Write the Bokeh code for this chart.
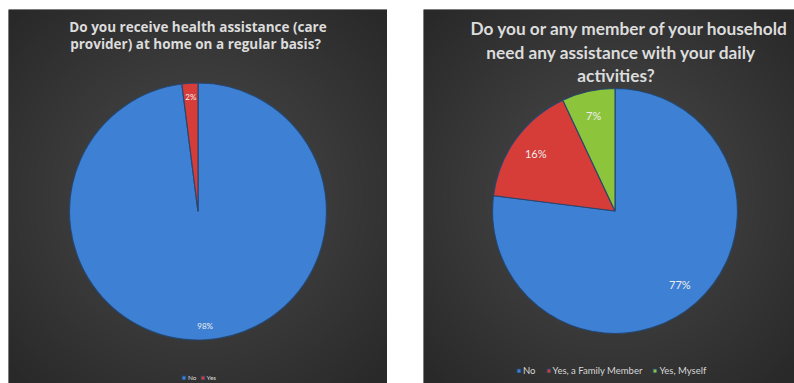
import numpy as np
from bokeh.plotting import figure
from bokeh.models import Range1d, Label, Legend, LegendItem, ColumnDataSource
from bokeh.layouts import row
from bokeh.embed import file_html
from bokeh.resources import INLINE
from bokeh.core.properties import value

# ---------------- data ----------------
left_title = ["Do you receive health assistance (care",
              "provider) at home on a regular basis?"]
left_categories = ["No", "Yes"]
left_values = [98, 2]
left_colors = ["#3d80d4", "#d63c38"]

right_title = ["Do you or any member of your household",
               "need any assistance with your daily",
               "activities?"]
right_categories = ["No", "Yes, a Family Member", "Yes, Myself"]
right_values = [77, 16, 7]
right_colors = ["#3d80d4", "#d63c38", "#8cc43c"]


def background(W, H):
    yy, xx = np.mgrid[0:H, 0:W].astype(float)
    dx = (xx - W * 0.5) / (W * 0.55)
    dy = (yy - H * 0.5) / (H * 0.55)
    d = np.clip(np.sqrt(dx * dx + dy * dy) / 1.25, 0, 1)
    c0 = np.array([0x4c, 0x4c, 0x4c], float)
    c1 = np.array([0x29, 0x29, 0x29], float)
    rgb = c0[None, None, :] * (1 - d[..., None]) + c1[None, None, :] * d[..., None]
    rgb = rgb.astype(np.uint32)
    img = (255 << 24) | (rgb[..., 2] << 16) | (rgb[..., 1] << 8) | rgb[..., 0]
    return img.astype(np.uint32)


def pie_panel(W, H, cx, cy, r, title_lines, title_font, title_size, title_ys, title_xs,
              cats, vals, colors, label_frac, label_size,
              legend_loc, legend_size, legend_spacing, glyph):
    p = figure(width=W, height=H,
               x_range=Range1d(-cx, W - cx), y_range=Range1d(-(H - cy), cy),
               output_backend="svg", toolbar_location=None, min_border=0,
               x_axis_location=None, y_axis_location=None)
    p.grid.visible = False
    p.outline_line_color = None
    p.background_fill_color = "#353535"
    p.border_fill_color = "#353535"

    p.image_rgba(image=[background(W, H)], x=-cx, y=-(H - cy), dw=W, dh=H)

    v = np.array(vals, float)
    frac = v / v.sum()
    cum = np.concatenate([[0.0], np.cumsum(frac)])
    start = np.pi / 2 - 2 * np.pi * cum[1:]
    end = np.pi / 2 - 2 * np.pi * cum[:-1]
    mid = (start + end) / 2
    src = ColumnDataSource(dict(
        cat=cats, start=start, end=end, color=colors,
        lx=label_frac * r * np.cos(mid), ly=label_frac * r * np.sin(mid),
        text=[f"{x:g}%" for x in vals]))
    w = p.wedge(x=0, y=0, radius=r, start_angle="start", end_angle="end",
                fill_color="color", line_color="#24466f", line_width=1.2,
                line_alpha=0.9, source=src)
    p.text(x="lx", y="ly", text="text", text_align="center",
           text_baseline="middle", text_font=value("Lato"),
           text_font_size=label_size, text_color="#eeeeee", source=src)

    for line, y, x in zip(title_lines, title_ys, title_xs):
        p.add_layout(Label(x=x, y=H - y, x_units="screen", y_units="screen",
                           text=line, text_align="center", text_baseline="middle",
                           text_font=title_font, text_font_style="bold",
                           text_font_size=title_size, text_color="#dcdcdc"))

    legend = Legend(items=[LegendItem(label=c, renderers=[w], index=i)
                           for i, c in enumerate(cats)],
                    orientation="horizontal", location=legend_loc,
                    background_fill_alpha=0, border_line_color=None,
                    padding=0, margin=0, spacing=legend_spacing,
                    glyph_width=glyph, glyph_height=glyph, label_standoff=2,
                    label_height=glyph + 2, label_width=0,
                    label_text_font="Lato", label_text_font_size=legend_size,
                    label_text_color="#d6d6d6", label_text_baseline="middle")
    p.add_layout(legend)
    return p


p1 = pie_panel(379, 374, 189.5, 202, 128.5, left_title, "Open Sans", "13.5px",
               [17, 34], [189.5, 187],
               left_categories, left_values, left_colors, 0.89, "8px",
               (173, 2), "6.5px", 3, 5)
p1.margin = (9, 0, 0, 8)

p2 = pie_panel(371, 374, 191.5, 201.5, 122.5, right_title, "Lato", "17.3px",
               [19, 43, 66], [206.5, 198, 192.5],
               right_categories, right_values, right_colors, 0.8, "11px",
               (93, 7), "9.5px", 10, 5)
p2.margin = (9, 0, 0, 36)

layout = row(p1, p2)
layout.margin = 0
open("out.html", "w").write(file_html(layout, INLINE))
